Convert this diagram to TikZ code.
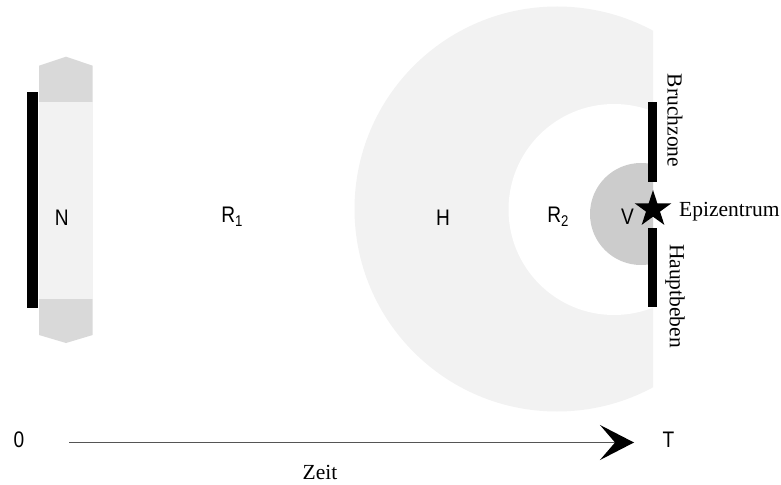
\documentclass[tikz,border=0pt]{standalone}
\usepackage{fontspec}
\setmainfont{Liberation Serif}
\setsansfont{Liberation Sans}
\usetikzlibrary{shapes.geometric,arrows.meta}
\definecolor{lightg}{HTML}{F2F2F2}
\definecolor{midg}{HTML}{D9D9D9}
\definecolor{vg}{HTML}{CCCCCC}
\definecolor{axisg}{HTML}{555555}
\tikzset{
  lab/.style={font=\fontsize{22.5bp}{24bp}\selectfont\sffamily, inner sep=0pt},
  slab/.style={font=\fontsize{21.5bp}{24bp}\selectfont\rmfamily, inner sep=0pt},
  bar/.style={fill=black, draw=none},
}
\newcommand{\mysub}[1]{\raisebox{-0.3ex}{\fontsize{15.5bp}{15.5bp}\selectfont #1}}
\newcommand{\narrow}[1]{\scalebox{0.85}[1]{#1}}
\begin{document}
\begin{tikzpicture}[x=1bp,y=-1bp]
\useasboundingbox (0,0) rectangle (781,485);
% left block
\fill[midg] (39,65.7) -- (66,56.7) -- (92.7,65.7) -- (92.7,335) -- (66,343) -- (39,335) -- cycle;
\fill[lightg] (39,101.7) rectangle (92.7,299);
\fill[bar] (27.3,92.3) rectangle (37.7,308.3);
% circles
\begin{scope}
\clip (0,0) rectangle (653,485);
\fill[lightg] (557,209) circle[radius=202.5bp];
\fill[white] (614,209.5) circle[radius=105.5bp];
\fill[vg] (641,214) circle[radius=51bp];
\end{scope}
% right bars
\fill[bar] (648.3,101.7) rectangle (657.3,181.7);
\fill[bar] (648.3,227.7) rectangle (657.3,307.3);
\node[star, star points=5, star point ratio=2.618, fill=black, inner sep=0pt, minimum size=38.6bp] (star) at (653,209.3) {};
% labels
\node[lab] (N) at (61.7,218) {\narrow{N}};
\node[lab] (R1) at (232,217) {\narrow{R\mysub{1}}};
\node[lab] (H) at (443,218) {\narrow{H}};
\node[lab] (R2) at (558,217) {\narrow{R\mysub{2}}};
\node[lab] (V) at (627.5,217) {\narrow{V}};
\node[slab, rotate=-90] (bz) at (675,120.5) {Bruchzone};
\node[slab, rotate=-90] (hb) at (675,296) {Hauptbeben};
\node[slab, anchor=west] (ep) at (679,212) {Epizentrum};
% time axis
\node[lab] (zero) at (19,440) {\narrow{0}};
\node[lab] (T) at (668.5,440) {\narrow{T}};
\node[slab] (zeit) at (320,472) {Zeit};
\coordinate (ts) at (69,442.5);
\coordinate (te) at (634,442.5);
\draw[axisg, line width=1.3bp, -{Stealth[length=34bp, width=35bp, inset=15bp, color=black]}] (ts) -- (te);
\end{tikzpicture}
\end{document}
